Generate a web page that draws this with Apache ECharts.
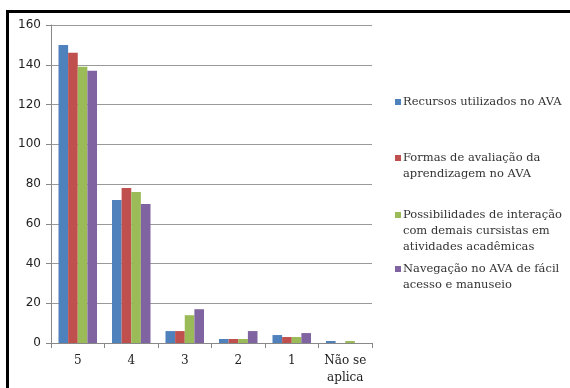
<!DOCTYPE html>
<html>
<head>
<meta charset="utf-8">
<script src="https://cdn.jsdelivr.net/npm/echarts@6/dist/echarts.min.js"></script>
<style>
  html, body { margin: 0; padding: 0; background: #fff; }
  #chart { width: 570px; height: 388px; }
</style>
</head>
<body>
<div id="chart"></div>
<script>
// categorias do eixo x
var categorias = ['5', '4', '3', '2', '1', 'Não se\naplica'];
// séries
var recursos = [150, 72, 6, 2, 4, 1];
var formas = [146, 78, 6, 2, 3, 0];
var possibilidades = [139, 76, 14, 2, 3, 1];
var navegacao = [137, 70, 17, 6, 5, 0];
var nomes = [
  'Recursos utilizados no AVA',
  'Formas de avaliação da\naprendizagem no AVA',
  'Possibilidades de interação\ncom demais cursistas em\natividades acadêmicas',
  'Navegação no AVA de fácil\nacesso e manuseio'
];
var cores = ['#4F81BD', '#C0504D', '#9BBB59', '#8064A2'];
var valores = [recursos, formas, possibilidades, navegacao];
var legendaTopo = [94, 150, 207, 261];

var myChart = echarts.init(document.getElementById('chart'));

var serif = '"DejaVu Serif", serif';

var series = valores.map(function (v, i) {
  return {
    name: nomes[i],
    type: 'bar',
    data: v,
    barGap: '0%',
    barCategoryGap: '28%',
    itemStyle: { color: cores[i] }
  };
});

// estilos rich: quadradinho colorido + recuo das linhas seguintes
var rich = { g: { width: 8 }, t: { fontFamily: serif, fontSize: 11.5, color: '#333', lineHeight: 16 } };
cores.forEach(function (c, i) {
  rich['m' + i] = { width: 6, height: 6, backgroundColor: c, padding: 0 };
});
rich.s = { width: 2 };

// uma legenda por item, para acertar o espaçamento
var legendas = nomes.map(function (n, i) {
  return {
    data: [n],
    left: 390,
    top: legendaTopo[i],
    orient: 'vertical',
    icon: 'none',
    itemWidth: 0,
    itemHeight: 6,
    itemGap: 0,
    padding: 0,
    formatter: function (name) {
      var linhas = name.split('\n');
      return linhas.map(function (l, k) {
        return (k === 0 ? '{m' + i + '|}{s|}' : '{g|}') + '{t|' + l + '}';
      }).join('\n');
    },
    textStyle: {
      fontFamily: serif,
      fontSize: 11.5,
      color: '#333',
      lineHeight: 16,
      rich: rich
    }
  };
});

var option = {
  animation: false,
  backgroundColor: '#fff',
  grid: { left: 51, right: 198, top: 25, bottom: 45 },
  legend: legendas,
  xAxis: {
    type: 'category',
    data: categorias,
    axisLine: { lineStyle: { color: '#888' } },
    axisTick: { show: true, lineStyle: { color: '#888' }, length: 5 },
    axisLabel: {
      interval: 0,
      color: '#222',
      fontFamily: serif,
      fontSize: 12,
      lineHeight: 17,
      margin: 9
    }
  },
  yAxis: {
    type: 'value',
    min: 0,
    max: 160,
    interval: 20,
    axisLine: { show: true, lineStyle: { color: '#888' } },
    axisTick: { show: true, lineStyle: { color: '#888' }, length: 5 },
    axisLabel: { color: '#222', fontFamily: '"DejaVu Sans", sans-serif', fontSize: 12, margin: 10 },
    splitLine: { lineStyle: { color: '#999' } }
  },
  graphic: [{
    type: 'rect',
    shape: { x: 7.5, y: 11.5, width: 620, height: 420 },
    style: { fill: null, stroke: '#000', lineWidth: 3 },
    silent: true
  }],
  series: series
};

myChart.setOption(option);
</script>
</body>
</html>
